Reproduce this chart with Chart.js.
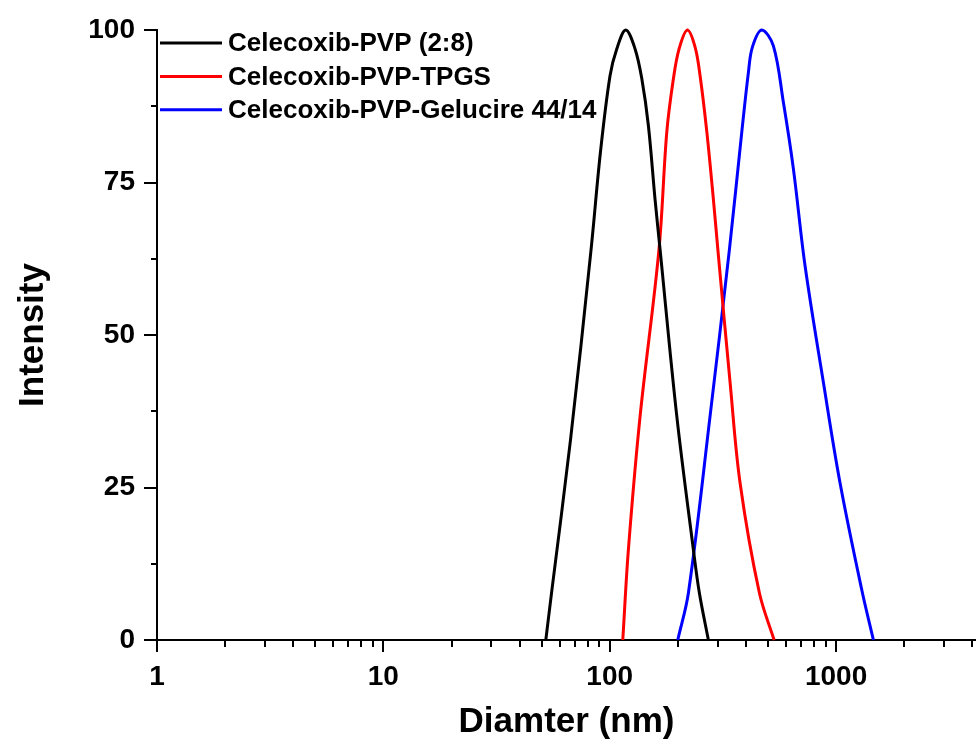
<!DOCTYPE html>
<html>
<head>
<meta charset="utf-8">
<title>Celecoxib size distribution</title>
<script src="https://cdn.jsdelivr.net/npm/chart.js@4.4.1/dist/chart.umd.min.js"></script>
<style>
  html, body { margin: 0; padding: 0; background: #fff; }
  #wrap { width: 976px; height: 747px; }
</style>
</head>
<body>
<div id="wrap"><canvas id="dls" width="976" height="747"></canvas></div>
<script>
'use strict';

/* ---- data (diameter nm / intensity) ---- */
const seriesNames = ['Celecoxib-PVP (2:8)', 'Celecoxib-PVP-TPGS', 'Celecoxib-PVP-Gelucire 44/14'];
const seriesColors = ['#000000', '#ff0000', '#0000ff'];

const pvpDiam = [52.2, 55.4, 67.1, 82.7, 91.0, 100.3, 107.4, 117.7, 129.4, 138.6, 148.2, 158.6, 166.9, 197.8, 234.2, 248.9, 272.8];
const pvpInt  = [0, 7.9, 32.8, 64.0, 80.0, 92.5, 96.9, 100, 96.9, 92.0, 84.3, 72.2, 64.0, 36.7, 14.8, 7.7, 0];

const tpgsDiam = [114.2, 120.9, 136.2, 165.0, 178.7, 191.1, 202.5, 220.3, 238.3, 250.7, 268.5, 287.1, 300.4, 340.2, 376.7, 458.4, 532.2];
const tpgsInt  = [0, 14.8, 36.7, 64.0, 83.3, 92.0, 96.9, 100, 97.2, 92.5, 83.3, 72.2, 64.0, 42.2, 25.7, 7.7, 0];

const gelDiam = [199.8, 222.6, 277.5, 337.8, 383.2, 410.0, 426.8, 469.7, 528.4, 585.2, 647.9, 729.5, 879.0, 1041.6, 1298.8, 1461.6];
const gelInt  = [0, 7.7, 36.7, 64.0, 83.3, 93.1, 97.2, 100, 97.4, 88.1, 77.2, 61.3, 42.2, 25.7, 8.2, 0];

const xMajor = [1, 10, 100, 1000];
const xMin = 1;
const xMax = 4150;
const yTicks = [0, 25, 50, 75, 100];

const FONT = "'Liberation Sans', Arial, sans-serif";

const toPoints = (xs, ys) => xs.map((x, i) => ({ x, y: ys[i] }));

/* ---- log ticks: majors 1,10,100,1000 plus 2..9 minors ---- */
function buildLogTicks(scale) {
  const list = [];
  for (let dec = 1; dec <= 1000; dec *= 10) {
    for (let m = 1; m <= 9; m++) {
      const v = m * dec;
      if (v >= xMin && v <= xMax) list.push({ value: v });
    }
  }
  scale.ticks = list;
}

/* ---- outward tick marks, long for majors, short for minors ---- */
const TickMarks = {
  id: 'tickMarks',
  afterDraw(chart) {
    const { ctx, chartArea, scales } = chart;
    ctx.save();
    ctx.strokeStyle = '#000';
    ctx.lineWidth = 2;
    ctx.beginPath();
    scales.x.ticks.forEach(t => {
      const px = Math.round(scales.x.getPixelForValue(t.value));
      const len = xMajor.includes(t.value) ? 12 : 7;
      ctx.moveTo(px, chartArea.bottom);
      ctx.lineTo(px, chartArea.bottom + len);
    });
    scales.y.ticks.forEach(t => {
      const py = Math.round(scales.y.getPixelForValue(t.value));
      const len = yTicks.includes(t.value) ? 13 : 6;
      ctx.moveTo(chartArea.left, py);
      ctx.lineTo(chartArea.left - len, py);
    });
    ctx.stroke();
    ctx.restore();
  }
};

/* ---- legend drawn inside the plot, top left ---- */
const InsideLegend = {
  id: 'insideLegend',
  afterDraw(chart) {
    const { ctx } = chart;
    ctx.save();
    ctx.font = 'bold 26px ' + FONT;
    ctx.textBaseline = 'middle';
    ctx.textAlign = 'left';
    chart.data.datasets.forEach((ds, i) => {
      const y = 43 + i * 33.4;
      ctx.strokeStyle = ds.borderColor;
      ctx.lineWidth = 3;
      ctx.beginPath();
      ctx.moveTo(160, y);
      ctx.lineTo(222, y);
      ctx.stroke();
      ctx.fillStyle = '#000';
      ctx.fillText(ds.label, 228, y + 1);
    });
    ctx.restore();
  }
};

const datasets = [
  toPoints(pvpDiam, pvpInt),
  toPoints(tpgsDiam, tpgsInt),
  toPoints(gelDiam, gelInt)
].map((pts, i) => ({
  label: seriesNames[i],
  data: pts,
  borderColor: seriesColors[i],
  backgroundColor: seriesColors[i],
  borderWidth: 3,
  pointRadius: 0,
  tension: 0.35,
  clip: 4
}));

new Chart(document.getElementById('dls'), {
  type: 'line',
  data: { datasets },
  plugins: [TickMarks, InsideLegend],
  options: {
    responsive: false,
    animation: false,
    events: [],
    layout: { padding: { top: 30, right: 0, left: 0, bottom: 0 } },
    plugins: {
      legend: { display: false },
      tooltip: { enabled: false }
    },
    scales: {
      x: {
        type: 'logarithmic',
        min: xMin,
        max: xMax,
        afterBuildTicks: buildLogTicks,
        afterFit(scale) {
          scale.height = 107;
          scale.paddingRight = 0;
        },
        grid: { display: true, drawOnChartArea: false, drawTicks: true, tickLength: 12, color: 'rgba(0,0,0,0)' },
        border: { display: true, color: '#000', width: 2 },
        ticks: {
          autoSkip: false,
          maxRotation: 0,
          padding: 8,
          color: '#000',
          font: { family: FONT, size: 28, weight: 'bold' },
          callback: v => (xMajor.includes(v) ? String(v) : '')
        },
        title: {
          display: true,
          text: 'Diamter (nm)',
          color: '#000',
          font: { family: FONT, size: 35, weight: 'bold' },
          padding: { top: 0, bottom: 4 }
        }
      },
      y: {
        min: 0,
        max: 100,
        afterFit(scale) { scale.width = 157; },
        grid: { display: true, drawOnChartArea: false, drawTicks: true, tickLength: 13, color: 'rgba(0,0,0,0)' },
        border: { display: true, color: '#000', width: 2 },
        ticks: {
          stepSize: 12.5,
          autoSkip: false,
          padding: 9,
          color: '#000',
          font: { family: FONT, size: 28, weight: 'bold' },
          callback: v => (yTicks.includes(v) ? String(v) : '')
        },
        title: {
          display: true,
          text: 'Intensity',
          color: '#000',
          font: { family: FONT, size: 35, weight: 'bold' },
          padding: { top: 12, bottom: 0 }
        }
      }
    }
  }
});
</script>
</body>
</html>
